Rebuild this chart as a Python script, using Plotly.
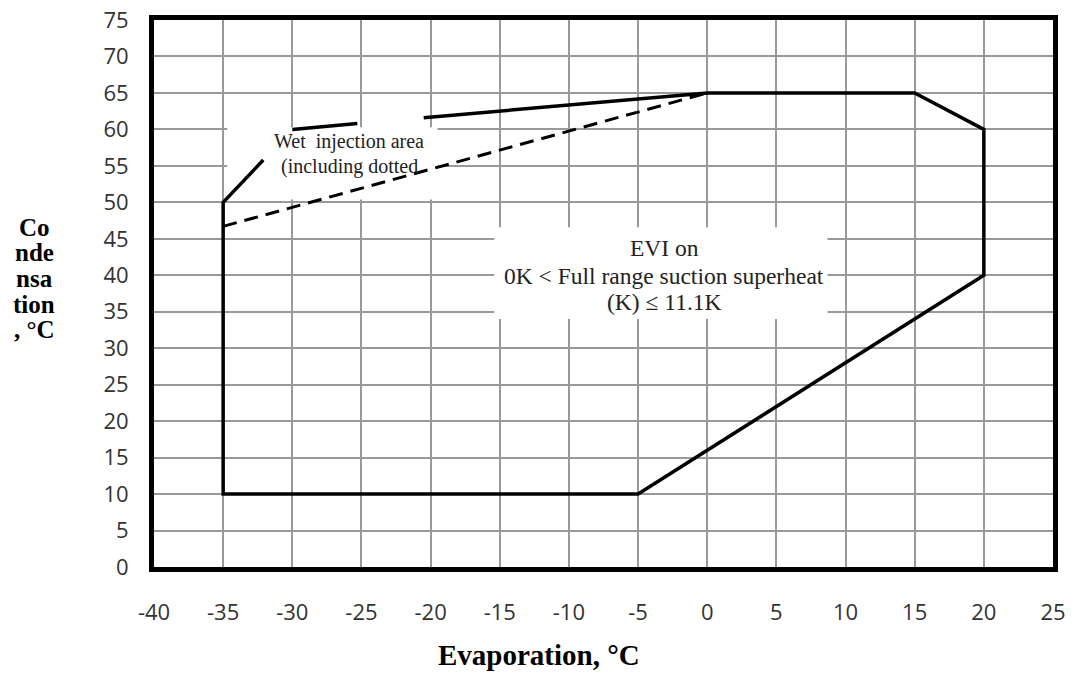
import plotly.graph_objects as go

# ---- data ----
x_ticks = [-40, -35, -30, -25, -20, -15, -10, -5, 0, 5, 10, 15, 20, 25]
x_tick_labels = ["-40", "-35", "-30", "-25", "-20", "-15", "-10", "-5", "0", "5", "10", "15", "20", "25"]
y_ticks = [0, 5, 10, 15, 20, 25, 30, 35, 40, 45, 50, 55, 60, 65, 70, 75]
y_tick_labels = [str(v) for v in y_ticks]

# main envelope (solid), visible pieces separated by None
env_x = [-32.1, -35, -35, -5, 20, 20, 15, 0, -20.5, None, -25.3, -30]
env_y = [55.8, 50, 10, 10, 40, 60, 65, 65, 61.6, None, 60.8, 60]

# wet injection boundary (dashed)
wet_x = [-35, 0]
wet_y = [46.7, 65]

# ---- layout geometry (screen pixels; body margin removed by post script) ----
W, H = 1081, 677
PL, PT, PR, PB = 154, 20, 1053, 567   # plot area on screen


def px2paper(px, py):
    return (px - PL) / (PR - PL), (PB - py) / (PB - PT)


fig = go.Figure()

fig.add_trace(go.Scatter(x=env_x, y=env_y, mode="lines",
                         line=dict(color="black", width=3.5),
                         connectgaps=False, hoverinfo="skip", showlegend=False))
fig.add_trace(go.Scatter(x=wet_x, y=wet_y, mode="lines",
                         line=dict(color="black", width=3, dash="14px,8px"),
                         hoverinfo="skip", showlegend=False))

# white boxes behind the text (hide gridlines)
fig.add_shape(type="rect", xref="x", yref="y", x0=-34.7, x1=-19.5, y0=50.4, y1=60.3,
              fillcolor="white", line=dict(width=0), layer="between")
fig.add_shape(type="rect", xref="x", yref="y", x0=-15.4, x1=8.7, y0=34.0, y1=46.6,
              fillcolor="white", line=dict(width=0), layer="between")

serif = "Liberation Serif, Times New Roman, serif"
wet_lines = ["Wet  injection area", "(including dotted"]
wet_pos = [(-25.9, 58.4), (-25.9, 54.9)]
for t, (x, y) in zip(wet_lines, wet_pos):
    fig.add_annotation(x=x, y=y, xref="x", yref="y", text=t, showarrow=False,
                       xanchor="center", yanchor="middle",
                       font=dict(family=serif, size=20, color="#222"))

evi_lines = ["EVI on", "0K < Full range suction superheat", "(K) ≤ 11.1K"]
evi_pos = [(-3.1, 43.7), (-3.1, 39.9), (-3.1, 36.4)]
for t, (x, y) in zip(evi_lines, evi_pos):
    fig.add_annotation(x=x, y=y, xref="x", yref="y", text=t, showarrow=False,
                       xanchor="center", yanchor="middle",
                       font=dict(family=serif, size=23.5, color="#222"))

# axis titles
ytitle_lines = ["Co", "nde", "nsa", "tion", ", °C"]
for i, t in enumerate(ytitle_lines):
    tx, ty = px2paper(34, 227 + 25.7 * i)
    fig.add_annotation(x=tx, y=ty, xref="paper", yref="paper",
                       text="<b>" + t + "</b>", showarrow=False,
                       xanchor="center", yanchor="middle",
                       font=dict(family=serif, size=25, color="black"))
xx, xy = px2paper(539, 655)
fig.add_annotation(x=xx, y=xy, xref="paper", yref="paper",
                   text="<b>Evaporation, °C</b>", showarrow=False,
                   xanchor="center", yanchor="middle",
                   font=dict(family=serif, size=29, color="black"))

sans = "Open Sans, Liberation Sans, sans-serif"
fig.update_layout(
    template="none",
    width=W, height=H,
    margin=dict(l=PL, r=W - PR, t=PT, b=H - PB, pad=0),
    paper_bgcolor="white", plot_bgcolor="white",
    xaxis=dict(range=[-40, 25], tickvals=x_ticks, ticktext=x_tick_labels,
               showgrid=True, gridcolor="#999999", gridwidth=1.8, automargin=False,
               zeroline=False, showline=True, linecolor="black", linewidth=5, mirror=True,
               ticks="", ticklabelstandoff=22, ticklabeloverflow="allow",
               tickfont=dict(family=sans, size=22, color="#333")),
    yaxis=dict(range=[0, 75], tickvals=y_ticks, ticktext=y_tick_labels,
               showgrid=True, gridcolor="#999999", gridwidth=1.8, automargin=False,
               zeroline=False, showline=True, linecolor="black", linewidth=5, mirror=True,
               ticks="", ticklabelstandoff=16, ticklabeloverflow="allow",
               tickfont=dict(family=sans, size=22, color="#333")),
)

fig.write_html("out.html", config={"displayModeBar": False},
               post_script="document.body.style.margin='0px';document.body.style.overflow='hidden';")
